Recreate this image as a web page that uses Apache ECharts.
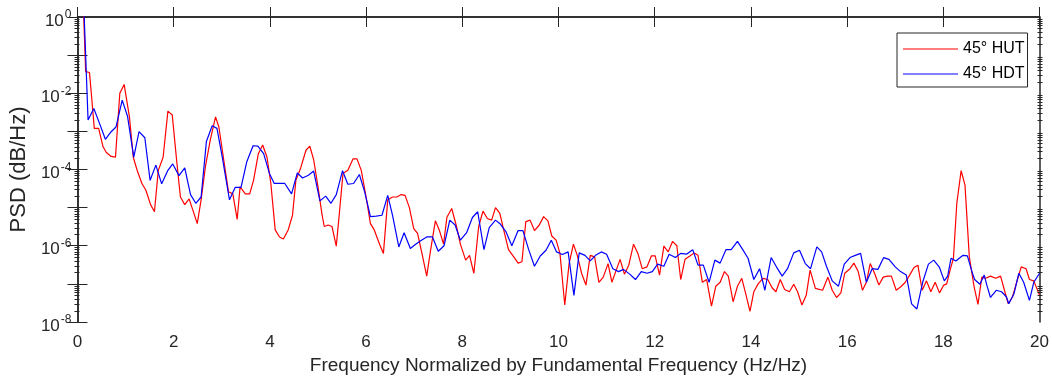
<!DOCTYPE html>
<html>
<head>
<meta charset="utf-8">
<title>PSD 45 HUT / HDT</title>
<script src="https://cdn.jsdelivr.net/npm/echarts@6/dist/echarts.min.js"></script>
<style>
	html, body {margin:0; padding:0; background:#fff;}
	#chart {width:1052px; height:385px;}
</style>
</head>
<body>
<div id="chart"></div>
<script>
'use strict';

// 45° HUT (red)
var hutFreq = [0, 0.13, 0.17, 0.25, 0.35, 0.44, 0.53, 0.60, 0.70, 0.79, 0.88, 0.97, 1.08, 1.16, 1.25, 1.34, 1.42, 1.52, 1.60, 1.68,
	1.78, 1.88, 1.97, 2.06, 2.14, 2.23, 2.32, 2.40, 2.49, 2.57, 2.66, 2.76, 2.87, 2.94, 3.04, 3.14, 3.23, 3.32, 3.38, 3.49,
	3.58, 3.66, 3.76, 3.85, 3.94, 4.02, 4.11, 4.20, 4.28, 4.38, 4.47, 4.54, 4.64, 4.75, 4.83, 4.91, 5.00, 5.08, 5.13, 5.21,
	5.29, 5.38, 5.45, 5.52, 5.62, 5.73, 5.81, 5.90, 6.00, 6.09, 6.17, 6.28, 6.36, 6.45, 6.55, 6.64, 6.73, 6.81, 6.90, 6.99,
	7.07, 7.17, 7.26, 7.34, 7.44, 7.52, 7.61, 7.68, 7.78, 7.88, 7.96, 8.07, 8.15, 8.24, 8.34, 8.43, 8.52, 8.61, 8.69, 8.78,
	8.86, 8.96, 9.07, 9.16, 9.24, 9.32, 9.41, 9.50, 9.60, 9.69, 9.78, 9.86, 9.95, 10.03, 10.13, 10.22, 10.31, 10.39, 10.48, 10.57,
	10.66, 10.75, 10.84, 10.93, 11.03, 11.11, 11.20, 11.28, 11.37, 11.46, 11.56, 11.65, 11.74, 11.84, 11.93, 12.01, 12.10, 12.19, 12.28, 12.37,
	12.46, 12.54, 12.63, 12.73, 12.82, 12.90, 12.99, 13.08, 13.18, 13.27, 13.36, 13.45, 13.53, 13.63, 13.72, 13.81, 13.89, 13.98, 14.06, 14.15,
	14.25, 14.35, 14.44, 14.52, 14.61, 14.70, 14.80, 14.89, 14.97, 15.06, 15.15, 15.23, 15.34, 15.49, 15.60, 15.69, 15.78, 15.87, 15.95, 16.06,
	16.14, 16.23, 16.32, 16.40, 16.48, 16.57, 16.66, 16.75, 16.84, 16.92, 17.02, 17.11, 17.21, 17.30, 17.39, 17.47, 17.56, 17.65, 17.74, 17.83,
	17.92, 18.01, 18.07, 18.14, 18.21, 18.28, 18.37, 18.45, 18.54, 18.64, 18.72, 18.80, 18.88, 18.98, 19.09, 19.19, 19.27, 19.35, 19.44, 19.54,
	19.62, 19.72, 19.79, 19.88, 20];
var hutPsd = [3, 1, 3.7e-2, 3.5e-2, 1.2e-3, 1.2e-3, 4.0e-4, 2.8e-4, 2.2e-4, 2.1e-4, 1.0e-2, 1.7e-2, 2.4e-3, 2.1e-4, 8.7e-5, 4.3e-5, 2.9e-5, 1.2e-5, 7.8e-6, 9.5e-5,
	2.1e-4, 3.4e-3, 2.7e-3, 1.8e-4, 1.9e-5, 1.2e-5, 1.7e-5, 8.5e-6, 3.8e-6, 1.6e-5, 1.2e-4, 5.9e-4, 2.4e-3, 1.3e-3, 1.8e-4, 2.6e-5, 2.3e-5, 4.9e-6, 3.5e-5, 2.3e-5,
	2.3e-5, 5.2e-5, 2.6e-4, 4.4e-4, 2.1e-4, 4.3e-5, 2.6e-6, 1.7e-6, 1.5e-6, 2.6e-6, 6.3e-6, 5.2e-5, 1.1e-4, 3.2e-4, 4.1e-4, 1.8e-4, 3.5e-5, 7.1e-6, 3.2e-6, 3.5e-6,
	3.2e-6, 9.8e-7, 8.5e-6, 7.9e-5, 9.5e-5, 1.9e-4, 1.9e-4, 9.5e-5, 1.9e-5, 3.8e-6, 2.6e-6, 1.1e-6, 6.3e-7, 1.6e-5, 1.9e-5, 1.9e-5, 2.2e-5, 2.1e-5, 1.0e-5, 2.8e-6,
	2.1e-6, 5.6e-7, 1.6e-7, 7.6e-7, 4.5e-6, 2.6e-6, 1.1e-6, 5.6e-6, 9.5e-6, 3.2e-6, 1.1e-6, 4.2e-7, 5.6e-7, 1.9e-7, 3.2e-6, 8.1e-6, 5.2e-6, 4.7e-6, 1.0e-5, 7.1e-6,
	2.6e-6, 7.9e-7, 5.1e-7, 3.5e-7, 3.8e-7, 4.3e-6, 4.7e-6, 2.5e-6, 3.5e-6, 5.8e-6, 4.5e-6, 1.8e-6, 1.4e-6, 6.3e-7, 2.8e-8, 3.4e-7, 1.1e-6, 5.6e-7, 1.9e-7, 9.3e-8,
	5.6e-7, 5.1e-7, 1.1e-7, 1.5e-7, 3.4e-7, 1.1e-7, 2.3e-7, 4.4e-7, 1.8e-7, 3.1e-7, 1.1e-6, 6.3e-7, 2.5e-7, 2.8e-7, 5.4e-7, 5.4e-7, 1.7e-7, 9.8e-7, 6.9e-7, 1.3e-6,
	1.0e-6, 1.3e-7, 4.4e-7, 5.4e-7, 6.5e-7, 5.6e-7, 1.1e-7, 1.3e-7, 2.6e-8, 8.7e-8, 1.1e-7, 2.1e-7, 1.6e-7, 3.4e-8, 8.7e-8, 1.4e-7, 5.6e-8, 1.9e-8, 6.2e-8, 1.0e-7,
	1.4e-7, 1.3e-7, 7.9e-8, 6.2e-8, 1.3e-7, 7.1e-8, 6.2e-8, 9.8e-8, 6.2e-8, 2.8e-8, 5.0e-8, 2.3e-7, 7.6e-8, 6.8e-8, 1.5e-7, 6.8e-8, 4.4e-8, 5.8e-8, 1.9e-7, 2.5e-7,
	3.5e-7, 2.1e-7, 6.8e-8, 1.1e-7, 3.4e-7, 1.9e-7, 9.3e-8, 1.5e-7, 1.6e-7, 1.6e-7, 6.8e-8, 8.3e-8, 1.1e-7, 1.7e-7, 2.7e-7, 3.1e-7, 6.8e-8, 1.2e-7, 6.2e-8, 1.1e-7,
	5.8e-8, 9.3e-8, 1.0e-7, 2.3e-7, 4.7e-7, 1.3e-5, 9.3e-5, 3.9e-5, 5.1e-7, 8.3e-8, 2.9e-8, 1.5e-7, 1.4e-7, 1.6e-7, 1.4e-7, 1.6e-7, 6.8e-8, 3.0e-8, 4.6e-8, 1.3e-7,
	2.8e-7, 2.5e-7, 1.3e-7, 1.2e-7, 5.0e-8];

// 45° HDT (blue)
var hdtFreq = [0, 0.14, 0.22, 0.34, 0.46, 0.58, 0.70, 0.80, 0.93, 1.04, 1.17, 1.28, 1.40, 1.51, 1.63, 1.75, 1.88, 1.98, 2.11, 2.23,
	2.35, 2.46, 2.57, 2.68, 2.80, 2.90, 3.01, 3.16, 3.28, 3.40, 3.52, 3.65, 3.75, 3.87, 3.99, 4.09, 4.31, 4.45, 4.57, 4.68,
	4.80, 4.91, 5.04, 5.16, 5.27, 5.38, 5.51, 5.62, 5.74, 5.86, 5.97, 6.09, 6.21, 6.33, 6.45, 6.55, 6.68, 6.79, 6.92, 7.03,
	7.15, 7.26, 7.38, 7.50, 7.62, 7.74, 7.85, 7.96, 8.09, 8.21, 8.32, 8.45, 8.56, 8.69, 8.79, 8.91, 9.03, 9.16, 9.26, 9.38,
	9.50, 9.62, 9.74, 9.85, 9.96, 10.08, 10.20, 10.32, 10.43, 10.55, 10.66, 10.77, 10.89, 11.00, 11.13, 11.25, 11.35, 11.48, 11.60, 11.72,
	11.84, 11.95, 12.06, 12.19, 12.30, 12.43, 12.54, 12.66, 12.79, 12.90, 13.01, 13.13, 13.25, 13.36, 13.48, 13.59, 13.72, 13.83, 13.94, 14.06,
	14.18, 14.29, 14.42, 14.53, 14.65, 14.76, 14.89, 15.01, 15.13, 15.24, 15.37, 15.47, 15.57, 15.69, 15.82, 15.94, 16.06, 16.17, 16.28, 16.40,
	16.52, 16.64, 16.76, 16.87, 17.00, 17.11, 17.23, 17.34, 17.45, 17.57, 17.69, 17.80, 17.92, 18.02, 18.09, 18.16, 18.26, 18.33, 18.41, 18.50,
	18.59, 18.65, 18.76, 18.85, 18.91, 18.98, 19.10, 19.21, 19.31, 19.36, 19.47, 19.57, 19.67, 19.79, 19.88, 20];
var hdtPsd = [3, 1, 2.0e-3, 4.0e-3, 1.6e-3, 6.2e-4, 9.8e-4, 1.3e-3, 6.6e-3, 2.5e-3, 2.1e-4, 9.8e-4, 6.8e-4, 5.2e-5, 1.3e-4, 4.2e-5, 9.5e-5, 1.4e-4, 6.9e-5, 1.1e-4,
	2.2e-5, 1.3e-5, 1.9e-5, 5.4e-4, 1.4e-3, 1.2e-3, 2.1e-4, 1.6e-5, 3.4e-5, 3.4e-5, 1.6e-4, 4.2e-4, 4.1e-4, 2.6e-4, 7.9e-5, 4.3e-5, 4.3e-5, 2.3e-5, 8.1e-5, 6.0e-5,
	7.1e-5, 9.1e-5, 1.5e-5, 2.0e-5, 1.3e-5, 2.2e-5, 9.3e-5, 4.1e-5, 4.3e-5, 7.4e-5, 2.6e-5, 5.8e-6, 6.0e-6, 6.3e-6, 2.1e-5, 6.3e-6, 9.3e-7, 2.2e-6, 8.5e-7, 1.1e-6,
	1.4e-6, 1.7e-6, 1.7e-6, 7.2e-7, 1.0e-6, 4.7e-6, 3.5e-6, 1.4e-6, 2.2e-6, 5.5e-6, 7.8e-6, 7.9e-7, 3.0e-6, 4.7e-6, 3.7e-6, 2.3e-6, 1.0e-6, 2.5e-6, 2.5e-6, 7.9e-7,
	2.9e-7, 5.4e-7, 7.6e-7, 1.4e-6, 6.9e-7, 5.9e-7, 6.9e-7, 5.0e-8, 6.5e-7, 5.6e-7, 4.0e-7, 5.6e-7, 6.9e-7, 6.0e-7, 2.5e-7, 2.1e-7, 2.4e-7, 1.8e-7, 1.3e-7, 2.1e-7,
	1.9e-7, 2.1e-7, 3.3e-7, 2.9e-7, 6.0e-7, 4.9e-7, 6.3e-7, 6.0e-7, 7.9e-7, 3.1e-7, 3.1e-7, 1.1e-7, 4.2e-7, 3.5e-7, 7.9e-7, 7.9e-7, 1.3e-6, 7.9e-7, 4.7e-7, 1.3e-7,
	2.5e-7, 6.8e-8, 4.9e-7, 2.8e-7, 1.6e-7, 2.5e-7, 6.5e-7, 7.6e-7, 3.4e-7, 2.5e-7, 9.3e-7, 6.9e-7, 2.9e-7, 1.2e-7, 8.7e-8, 3.3e-7, 4.9e-7, 5.6e-7, 6.3e-7, 1.1e-7,
	2.5e-7, 2.4e-7, 4.9e-7, 4.4e-7, 2.8e-7, 2.1e-7, 1.7e-7, 3.0e-8, 2.2e-8, 1.1e-7, 3.3e-7, 4.2e-7, 2.7e-7, 1.2e-7, 1.6e-7, 4.7e-7, 4.0e-7, 4.7e-7, 5.6e-7, 5.4e-7,
	2.2e-7, 1.3e-7, 9.8e-8, 1.7e-7, 8.7e-8, 4.4e-8, 6.8e-8, 6.2e-8, 4.6e-8, 3.0e-8, 5.6e-8, 1.9e-7, 1.1e-7, 3.7e-8, 1.1e-7, 1.9e-7];

var seriesNames = ['45° HUT', '45° HDT'];
var seriesColors = ['#ff0000', '#0000ff'];

// y tick labels (powers of ten that carry a label)
var yLabelExp = [0, -2, -4, -6, -8];
// mantissas that get a minor tick inside each decade
var minorMantissa = [2, 3, 4, 5, 6, 7, 8, 9];

var Page = {
	ink: '#262626',
	box: {left: 74.5, right: 9.5, top: 17, bottom: 63, width: 1052, height: 385, decades: 8},
	init: function() {
		var chart = echarts.init(document.getElementById('chart'), null, {renderer: 'canvas'});
		chart.setOption(Page.option());
	},
	pairs: function(xs, ys) {
		return xs.map(function(x, i) { return [x, ys[i]]; });
	},
	// log minor ticks (2..9 x 10^e) along both frame sides, from the grid box
	minorTicks: function() {
		var b = Page.box;
		var h = b.height - b.top - b.bottom;
		var xl = b.left, xr = b.width - b.right;
		var len = 5;
		var out = [];
		for (var e = -8; e < 0; e++) {
			minorMantissa.forEach(function(k) {
				var frac = (e + Math.log10(k) + b.decades) / b.decades;
				var y = Math.round(b.top + h * (1 - frac)) + 0.5;
				out.push({
					type: 'line', silent: true, z: 100,
					shape: {x1: xl, y1: y, x2: xl + len, y2: y},
					style: {stroke: Page.ink, lineWidth: 1}
				});
				out.push({
					type: 'line', silent: true, z: 100,
					shape: {x1: xr - len, y1: y, x2: xr, y2: y},
					style: {stroke: Page.ink, lineWidth: 1}
				});
			});
		}
		return out;
	},
	option: function() {
		var ink = Page.ink;
		var b = Page.box;
		var axisLine = {show: true, lineStyle: {color: ink, width: 1.5}};
		var majorTick = {show: true, inside: true, length: 10, lineStyle: {color: ink, width: 1}};
		var noLabel = {show: false};
		return {
			animation: false,
			backgroundColor: '#fff',
			textStyle: {fontFamily: 'Liberation Sans, Arial, sans-serif'},
			grid: {left: b.left, right: b.right, top: b.top, bottom: b.bottom},
			graphic: Page.minorTicks(),
			legend: {
				data: seriesNames,
				orient: 'vertical',
				left: 897, top: 33,
				icon: 'rect',
				itemWidth: 55, itemHeight: 1,
				itemGap: 9,
				padding: [8, 3, 5, 6],
				backgroundColor: '#fff',
				borderColor: ink, borderWidth: 1,
				textStyle: {fontSize: 16, color: '#000'}
			},
			xAxis: [{
				type: 'value', min: 0, max: 20, interval: 2, position: 'bottom',
				axisLine: axisLine, axisTick: majorTick, splitLine: {show: false},
				axisLabel: {fontSize: 17, color: ink, margin: 12},
				name: 'Frequency Normalized by Fundamental Frequency (Hz/Hz)',
				nameLocation: 'middle', nameGap: 34,
				nameTextStyle: {fontSize: 19, color: ink}
			}, {
				type: 'value', min: 0, max: 20, interval: 2, position: 'top',
				axisLine: axisLine, axisTick: majorTick, splitLine: {show: false}, axisLabel: noLabel
			}],
			yAxis: [{
				type: 'log', logBase: 10, min: 1e-8, max: 1, interval: 1, position: 'left',
				axisLine: axisLine, axisTick: majorTick, splitLine: {show: false},
				axisLabel: {
					color: ink, margin: 6, padding: [8, 0, 0, 0],
					formatter: function(v) {
						var e = Math.round(Math.log10(v));
						if (yLabelExp.indexOf(e) < 0) return '';
						return '{b|10}{s|' + e + '}';
					},
					rich: {
						b: {fontSize: 17, color: ink},
						s: {fontSize: 12, color: ink, padding: [0, 0, 12, 1]}
					}
				},
				name: 'PSD (dB/Hz)', nameLocation: 'middle', nameGap: 39, nameRotate: 90,
				nameTextStyle: {fontSize: 22, color: ink}
			}, {
				type: 'log', logBase: 10, min: 1e-8, max: 1, interval: 1, position: 'right',
				axisLine: axisLine, axisTick: majorTick, axisLabel: noLabel, splitLine: {show: false}
			}, {
				// same range counted in decades (keeps the x ticks drawn)
				type: 'value', min: -8, max: 0, position: 'right',
				axisLine: axisLine, axisTick: {show: false}, axisLabel: noLabel, splitLine: {show: false}
			}],
			series: [{
				name: seriesNames[0], type: 'line', xAxisIndex: 0, yAxisIndex: 0,
				data: Page.pairs(hutFreq, hutPsd),
				symbol: 'none', clip: true,
				lineStyle: {color: seriesColors[0], width: 1.2},
				itemStyle: {color: seriesColors[0]}
			}, {
				name: seriesNames[1], type: 'line', xAxisIndex: 0, yAxisIndex: 0,
				data: Page.pairs(hdtFreq, hdtPsd),
				symbol: 'none', clip: true,
				lineStyle: {color: seriesColors[1], width: 1.2},
				itemStyle: {color: seriesColors[1]}
			}]
		};
	}
};

Page.init();
</script>
</body>
</html>
